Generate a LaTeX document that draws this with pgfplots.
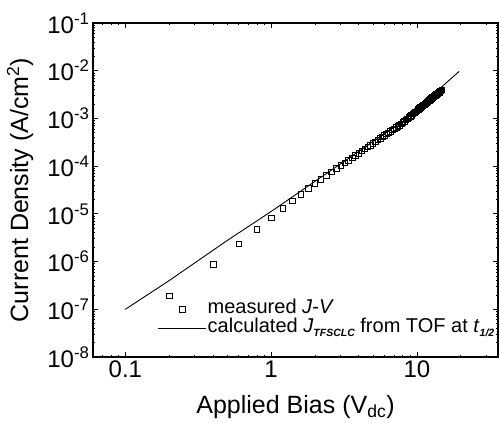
\documentclass[border=0pt]{standalone}
\usepackage{fontspec}
\setmainfont{Liberation Sans}
\usepackage{pgfplots}
\pgfplotsset{compat=1.18}
\newcommand\lsub[1]{\raisebox{-3.5bp}{\fontsize{10.5bp}{11bp}\selectfont\bfseries\itshape #1}}
\pgfplotsset{
  mylineleg/.style={legend image code/.code={\draw[##1] (0bp,0bp) -- (48bp,0bp);}},
  mymarkleg/.style={legend image code/.code={\path[draw=none] (0bp,0bp) -- (48bp,0bp); \draw[##1, draw=black] plot[only marks] coordinates {(24bp,0bp)};}},
}
\pgfplotstableread{
x y
0.2 1.93e-7
0.4 8.8e-7
0.6 2.33e-6
0.8 4.8e-6
1.0 8.3e-6
1.2 1.31e-5
1.4 1.89e-5
1.6 2.6e-5
1.8 3.4e-5
2.0 4.4e-5
2.2 5.35e-5
2.4 6.41e-5
2.6 7.59e-5
2.8 8.87e-5
3.0 1.025e-4
3.2 1.174e-4
3.4 1.334e-4
3.6 1.504e-4
3.8 1.684e-4
4.0 1.876e-4
4.2 2.077e-4
4.4 2.292e-4
4.6 2.516e-4
4.8 2.750e-4
5.0 2.998e-4
5.2 3.255e-4
5.4 3.524e-4
5.6 3.80e-4
5.8 4.09e-4
6.0 4.395e-4
6.2 4.71e-4
6.4 5.03e-4
6.6 5.37e-4
6.8 5.72e-4
7.0 6.07e-4
7.2 6.44e-4
7.4 6.83e-4
7.6 7.23e-4
7.8 7.72e-4
8.0 8.23e-4
8.2 8.76e-4
8.4 9.32e-4
8.6 9.89e-4
8.8 1.049e-3
9.0 1.111e-3
9.2 1.175e-3
9.4 1.241e-3
9.6 1.310e-3
9.8 1.380e-3
10.0 1.454e-3
10.2 1.529e-3
10.4 1.606e-3
10.6 1.687e-3
10.8 1.769e-3
11.0 1.854e-3
11.2 1.941e-3
11.4 2.031e-3
11.6 2.123e-3
11.8 2.217e-3
12.0 2.314e-3
12.2 2.414e-3
12.4 2.515e-3
12.6 2.621e-3
12.8 2.728e-3
13.0 2.838e-3
13.2 2.951e-3
13.4 3.066e-3
13.6 3.183e-3
13.8 3.305e-3
14.0 3.428e-3
14.2 3.555e-3
14.4 3.685e-3
14.6 3.817e-3
14.8 3.95e-3
}\measured
\pgfplotstableread{
x y
0.1 1.0e-7
0.2 4.0e-7
0.5 2.77e-6
1 1.12e-5
2 4.8e-5
3 1.12e-4
5 3.28e-4
8 8.7e-4
10 1.59e-3
12 2.6e-3
15 4.75e-3
19.5 9.7e-3
}\calc
\begin{document}
\begin{tikzpicture}
\useasboundingbox (0,0) rectangle (499bp,423bp);
\begin{axis}[
  at={(93bp,66bp)}, anchor=south west,
  scale only axis, width=405bp, height=334bp,
  xmode=log, ymode=log,
  xmin=0.06, xmax=36, ymin=1e-8, ymax=1e-1,
  axis line style={line width=1.2bp},
  tick style={black, line width=0.8bp},
  major tick length=5bp, minor tick length=2.5bp,
  tick align=inside,
  xtick={0.1,1,10}, xticklabels={0.1,1,10},
  minor xtick={0.07,0.08,0.09,0.2,0.3,0.4,0.5,0.6,0.7,0.8,0.9,2,3,4,5,6,7,8,9,20,30},
  ytick={1e-8,1e-7,1e-6,1e-5,1e-4,1e-3,1e-2,1e-1},
  yticklabels={10\textsuperscript{-8},10\textsuperscript{-7},10\textsuperscript{-6},10\textsuperscript{-5},10\textsuperscript{-4},10\textsuperscript{-3},10\textsuperscript{-2},10\textsuperscript{-1}},
  minor ytick={2e-8,3e-8,4e-8,5e-8,6e-8,7e-8,8e-8,9e-8,
    2e-7,3e-7,4e-7,5e-7,6e-7,7e-7,8e-7,9e-7,
    2e-6,3e-6,4e-6,5e-6,6e-6,7e-6,8e-6,9e-6,
    2e-5,3e-5,4e-5,5e-5,6e-5,7e-5,8e-5,9e-5,
    2e-4,3e-4,4e-4,5e-4,6e-4,7e-4,8e-4,9e-4,
    2e-3,3e-3,4e-3,5e-3,6e-3,7e-3,8e-3,9e-3,
    2e-2,3e-2,4e-2,5e-2,6e-2,7e-2,8e-2,9e-2},
  ticklabel style={font=\fontsize{24bp}{28bp}\selectfont},
  xlabel={Applied Bias (V\textsubscript{dc})},
  ylabel={Current Density (A/cm\textsuperscript{2})},
  label style={font=\fontsize{25bp}{30bp}\selectfont},
  xlabel style={at={(axis description cs:0.5,-0.168)}, anchor=base},
  ylabel style={at={(axis description cs:-0.16,0.5)}, anchor=base},
  legend style={draw=none, fill=none, inner sep=0pt, outer sep=0pt,
    at={(axis description cs:0.16,0.172)}, anchor=north west,
    font=\fontsize{20bp}{22bp}\selectfont,
    row sep=0pt,
    cells={anchor=west},
    nodes={inner sep=1bp, text height=13bp, text depth=4bp}},
  legend cell align=left,
]
\addplot[only marks, mark=square, mark size=2.8bp, mark options={line width=0.7bp}, black, mymarkleg]
  table[x=x,y=y] {\measured};
\addlegendentry{measured \textit{J}-\textit{V}}
\addplot[black, line width=0.9bp, no marks, mylineleg]
  table[x=x,y=y] {\calc};
\addlegendentry{calculated \textit{J}\lsub{TFSCLC} from TOF at \textit{t}\lsub{1/2}}
\end{axis}
\end{tikzpicture}
\end{document}
